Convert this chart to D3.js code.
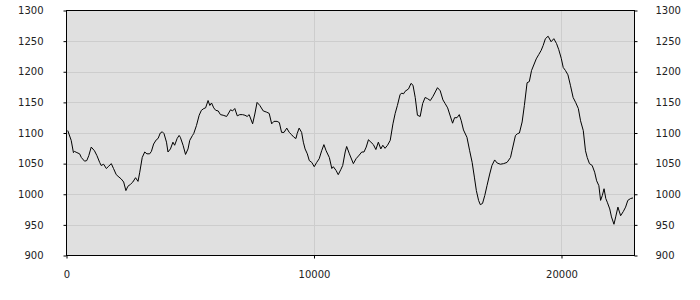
<!DOCTYPE html>
<html>
<head>
<meta charset="utf-8">
<script src="https://cdn.jsdelivr.net/npm/d3@7"></script>
<style>
  body { margin: 0; background: #fff; }
  .tick text { font-family: "DejaVu Sans", sans-serif; font-size: 10px; fill: #222; }
</style>
</head>
<body>
<div id="chart"></div>
<script>
// Data
const xValues = [50, 190, 280, 320, 420, 530, 600, 730, 820, 900, 1000, 1130, 1230, 1340, 1400, 1500, 1610, 1710, 1810, 1900,
  2010, 2120, 2210, 2310, 2400, 2480, 2580, 2680, 2790, 2890, 2960, 3060, 3160, 3250, 3360, 3430, 3520, 3630, 3700, 3790,
  3870, 3940, 4040, 4100, 4200, 4300, 4370, 4470, 4550, 4600, 4710, 4810, 4910, 4980, 5090, 5140, 5250, 5360, 5450, 5550,
  5620, 5720, 5790, 5860, 5950, 6030, 6130, 6220, 6330, 6470, 6530, 6630, 6710, 6800, 6900, 7000, 7110, 7210, 7300, 7380,
  7520, 7610, 7700, 7810, 7950, 8090, 8190, 8290, 8380, 8510, 8600, 8690, 8790, 8900, 9000, 9100, 9190, 9270, 9320, 9400,
  9500, 9570, 9640, 9730, 9810, 9910, 10010, 10110, 10210, 10310, 10400, 10490, 10620, 10720, 10780, 10890, 10980, 11080, 11160, 11260,
  11320, 11430, 11590, 11700, 11830, 11930, 12020, 12110, 12200, 12300, 12400, 12500, 12600, 12700, 12780, 12870, 12970, 13080, 13190, 13280,
  13370, 13480, 13550, 13620, 13680, 13820, 13920, 14000, 14090, 14180, 14290, 14390, 14490, 14590, 14700, 14810, 14900, 14990, 15100, 15210,
  15300, 15400, 15480, 15600, 15680, 15780, 15870, 15950, 16040, 16180, 16290, 16390, 16480, 16560, 16650, 16720, 16810, 16900, 16990, 17100,
  17190, 17300, 17400, 17530, 17660, 17800, 17940, 18000, 18140, 18230, 18300, 18410, 18500, 18610, 18700, 18790, 18880, 18980, 19080, 19180,
  19260, 19350, 19460, 19580, 19690, 19800, 19890, 19990, 20070, 20160, 20260, 20360, 20470, 20570, 20680, 20770, 20880, 20970, 21040, 21130,
  21240, 21340, 21420, 21510, 21580, 21650, 21720, 21790, 21850, 21950, 22020, 22120, 22190, 22280, 22390, 22500, 22590, 22680, 22790, 22890];

const yValues = [1104, 1088, 1068, 1070, 1068, 1066, 1060, 1054, 1055, 1063, 1077, 1071, 1063, 1052, 1047, 1049, 1042, 1046, 1050, 1042,
  1032, 1028, 1025, 1020, 1006, 1013, 1016, 1020, 1027, 1021, 1036, 1060, 1069, 1066, 1066, 1070, 1082, 1089, 1091, 1100,
  1102, 1099, 1085, 1069, 1074, 1085, 1080, 1091, 1096, 1093, 1080, 1065, 1074, 1088, 1096, 1099, 1112, 1129, 1137, 1140,
  1141, 1153, 1145, 1149, 1141, 1137, 1136, 1130, 1129, 1127, 1131, 1138, 1136, 1140, 1128, 1130, 1130, 1129, 1127, 1130,
  1115, 1131, 1150, 1145, 1136, 1134, 1132, 1115, 1119, 1119, 1117, 1101, 1101, 1108, 1101, 1097, 1093, 1091, 1099, 1108,
  1101, 1085, 1074, 1066, 1055, 1052, 1045, 1052, 1058, 1071, 1081, 1071, 1060, 1042, 1045, 1039, 1032, 1040, 1047, 1069,
  1078, 1066, 1050, 1058, 1064, 1069, 1069, 1077, 1089, 1085, 1081, 1073, 1085, 1074, 1080, 1075, 1080, 1088, 1115, 1132,
  1145, 1163, 1165, 1164, 1168, 1172, 1181, 1178, 1158, 1129, 1127, 1148, 1158, 1156, 1153, 1160, 1167, 1174, 1169, 1154,
  1148, 1141, 1131, 1116, 1125, 1125, 1130, 1120, 1105, 1093, 1071, 1052, 1028, 1006, 990, 983, 985, 998, 1014, 1033,
  1047, 1056, 1051, 1049, 1050, 1052, 1060, 1071, 1096, 1099, 1100, 1118, 1145, 1182, 1184, 1202, 1211, 1221, 1228, 1235,
  1243, 1254, 1258, 1249, 1254, 1246, 1236, 1222, 1207, 1202, 1195, 1178, 1158, 1150, 1140, 1120, 1104, 1071, 1060, 1050,
  1047, 1036, 1022, 1014, 990, 998, 1009, 993, 987, 976, 963, 951, 963, 979, 965, 972, 979, 990, 993, 994];

const xTicks = [0, 10000, 20000];
const yTicks = [900, 950, 1000, 1050, 1100, 1150, 1200, 1250, 1300];

const series = xValues.map((x, i) => ({ x: x, y: yValues[i] }));

// Layout
const svgWidth = 700;
const svgHeight = 300;
const plot = { left: 66.5, right: 634.5, top: 10.5, bottom: 255.5 };

const svg = d3.select("#chart")
    .append("svg")
    .attr("width", svgWidth)
    .attr("height", svgHeight);

// Scales
const xScale = d3.scaleLinear()
    .domain([0, 22950])
    .range([plot.left, plot.right]);

const yScale = d3.scaleLinear()
    .domain([900, 1300])
    .range([plot.bottom, plot.top]);

// Plot background
svg.append("rect")
    .attr("x", plot.left)
    .attr("y", plot.top)
    .attr("width", plot.right - plot.left)
    .attr("height", plot.bottom - plot.top)
    .attr("fill", "#e0e0e0");

// Grid lines
svg.append("g")
    .selectAll("line")
    .data(yTicks.slice(1, -1))
    .join("line")
    .attr("x1", plot.left)
    .attr("x2", plot.right)
    .attr("y1", d => Math.round(yScale(d)) + 0.5)
    .attr("y2", d => Math.round(yScale(d)) + 0.5)
    .attr("stroke", "#cdcdcd");

svg.append("g")
    .selectAll("line")
    .data(xTicks.slice(1))
    .join("line")
    .attr("x1", d => Math.round(xScale(d)) + 0.5)
    .attr("x2", d => Math.round(xScale(d)) + 0.5)
    .attr("y1", plot.top)
    .attr("y2", plot.bottom)
    .attr("stroke", "#cdcdcd");

// Data line
const line = d3.line()
    .x(d => xScale(d.x))
    .y(d => yScale(d.y));

svg.append("path")
    .datum(series)
    .attr("fill", "none")
    .attr("stroke", "#000")
    .attr("stroke-width", 1)
    .attr("d", line);

// Frame
svg.append("rect")
    .attr("x", plot.left)
    .attr("y", plot.top)
    .attr("width", plot.right - plot.left)
    .attr("height", plot.bottom - plot.top)
    .attr("fill", "none")
    .attr("stroke", "#000");

// Axes
const fmt = d3.format("d");
const yAxisLeft = d3.axisLeft(yScale).tickValues(yTicks).tickFormat(fmt).tickSize(3).tickPadding(20);
const yAxisRight = d3.axisRight(yScale).tickValues(yTicks).tickFormat(fmt).tickSize(3).tickPadding(18);
const xAxis = d3.axisBottom(xScale).tickValues(xTicks).tickFormat(fmt).tickSize(3).tickPadding(12);

[
  svg.append("g").attr("transform", `translate(${plot.left}, 0)`).call(yAxisLeft),
  svg.append("g").attr("transform", `translate(${plot.right}, 0)`).call(yAxisRight),
  svg.append("g").attr("transform", `translate(0, ${plot.bottom})`).call(xAxis)
].forEach(g => {
  g.select(".domain").remove();
  g.selectAll(".tick line").attr("stroke", "#000");
});
</script>
</body>
</html>
